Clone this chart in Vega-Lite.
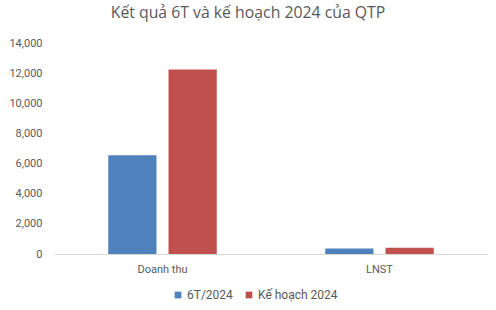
{
  "$schema": "https://vega.github.io/schema/vega-lite/v6.json",
  "autosize": "none",
  "width": 434,
  "height": 211,
  "padding": {"left": 54, "top": 43, "right": 8, "bottom": 56},
  "background": "white",
  "title": {
    "text": "Kết quả 6T và kế hoạch 2024 của QTP",
    "font": "Open Sans",
    "fontSize": 15.8,
    "fontWeight": "normal",
    "color": "#595959",
    "anchor": "middle",
    "dx": -23,
    "offset": 15
  },
  "data": {
    "values": [
      {"cat": "Doanh thu", "series": "6T/2024", "value": 6550},
      {"cat": "Doanh thu", "series": "Kế hoạch 2024", "value": 12250},
      {"cat": "LNST", "series": "6T/2024", "value": 360},
      {"cat": "LNST", "series": "Kế hoạch 2024", "value": 420}
    ]
  },
  "mark": {"type": "bar"},
  "encoding": {
    "x": {
      "field": "cat",
      "type": "nominal",
      "sort": null,
      "title": null,
      "scale": {"paddingInner": 0.5, "paddingOuter": 0.25},
      "axis": {
        "labelAngle": 0,
        "labelFont": "Roboto",
        "labelFontSize": 11,
        "labelColor": "#595959",
        "labelPadding": 9,
        "ticks": false,
        "domainColor": "#d9d9d9",
        "domainWidth": 1
      }
    },
    "xOffset": {
      "field": "series",
      "type": "nominal",
      "sort": null,
      "scale": {"paddingInner": 0.2, "paddingOuter": 0}
    },
    "y": {
      "field": "value",
      "type": "quantitative",
      "title": null,
      "scale": {"domain": [0, 14000]},
      "axis": {
        "values": [0, 2000, 4000, 6000, 8000, 10000, 12000, 14000],
        "format": ",d",
        "labelFont": "Roboto",
        "labelFontSize": 11,
        "labelColor": "#595959",
        "labelPadding": 12,
        "ticks": false,
        "domain": false,
        "grid": false
      }
    },
    "color": {
      "field": "series",
      "type": "nominal",
      "sort": null,
      "scale": {"domain": ["6T/2024", "Kế hoạch 2024"], "range": ["#4F81BD", "#C0504D"]},
      "legend": {
        "title": null,
        "orient": "none",
        "direction": "horizontal",
        "legendX": 118,
        "legendY": 246,
        "symbolType": "square",
        "symbolSize": 45,
        "symbolStrokeWidth": 0,
        "labelFont": "Roboto",
        "labelFontSize": 12,
        "labelColor": "#595959",
        "labelOffset": 3,
        "columnPadding": 10
      }
    }
  },
  "config": {"view": {"stroke": null}}
}
